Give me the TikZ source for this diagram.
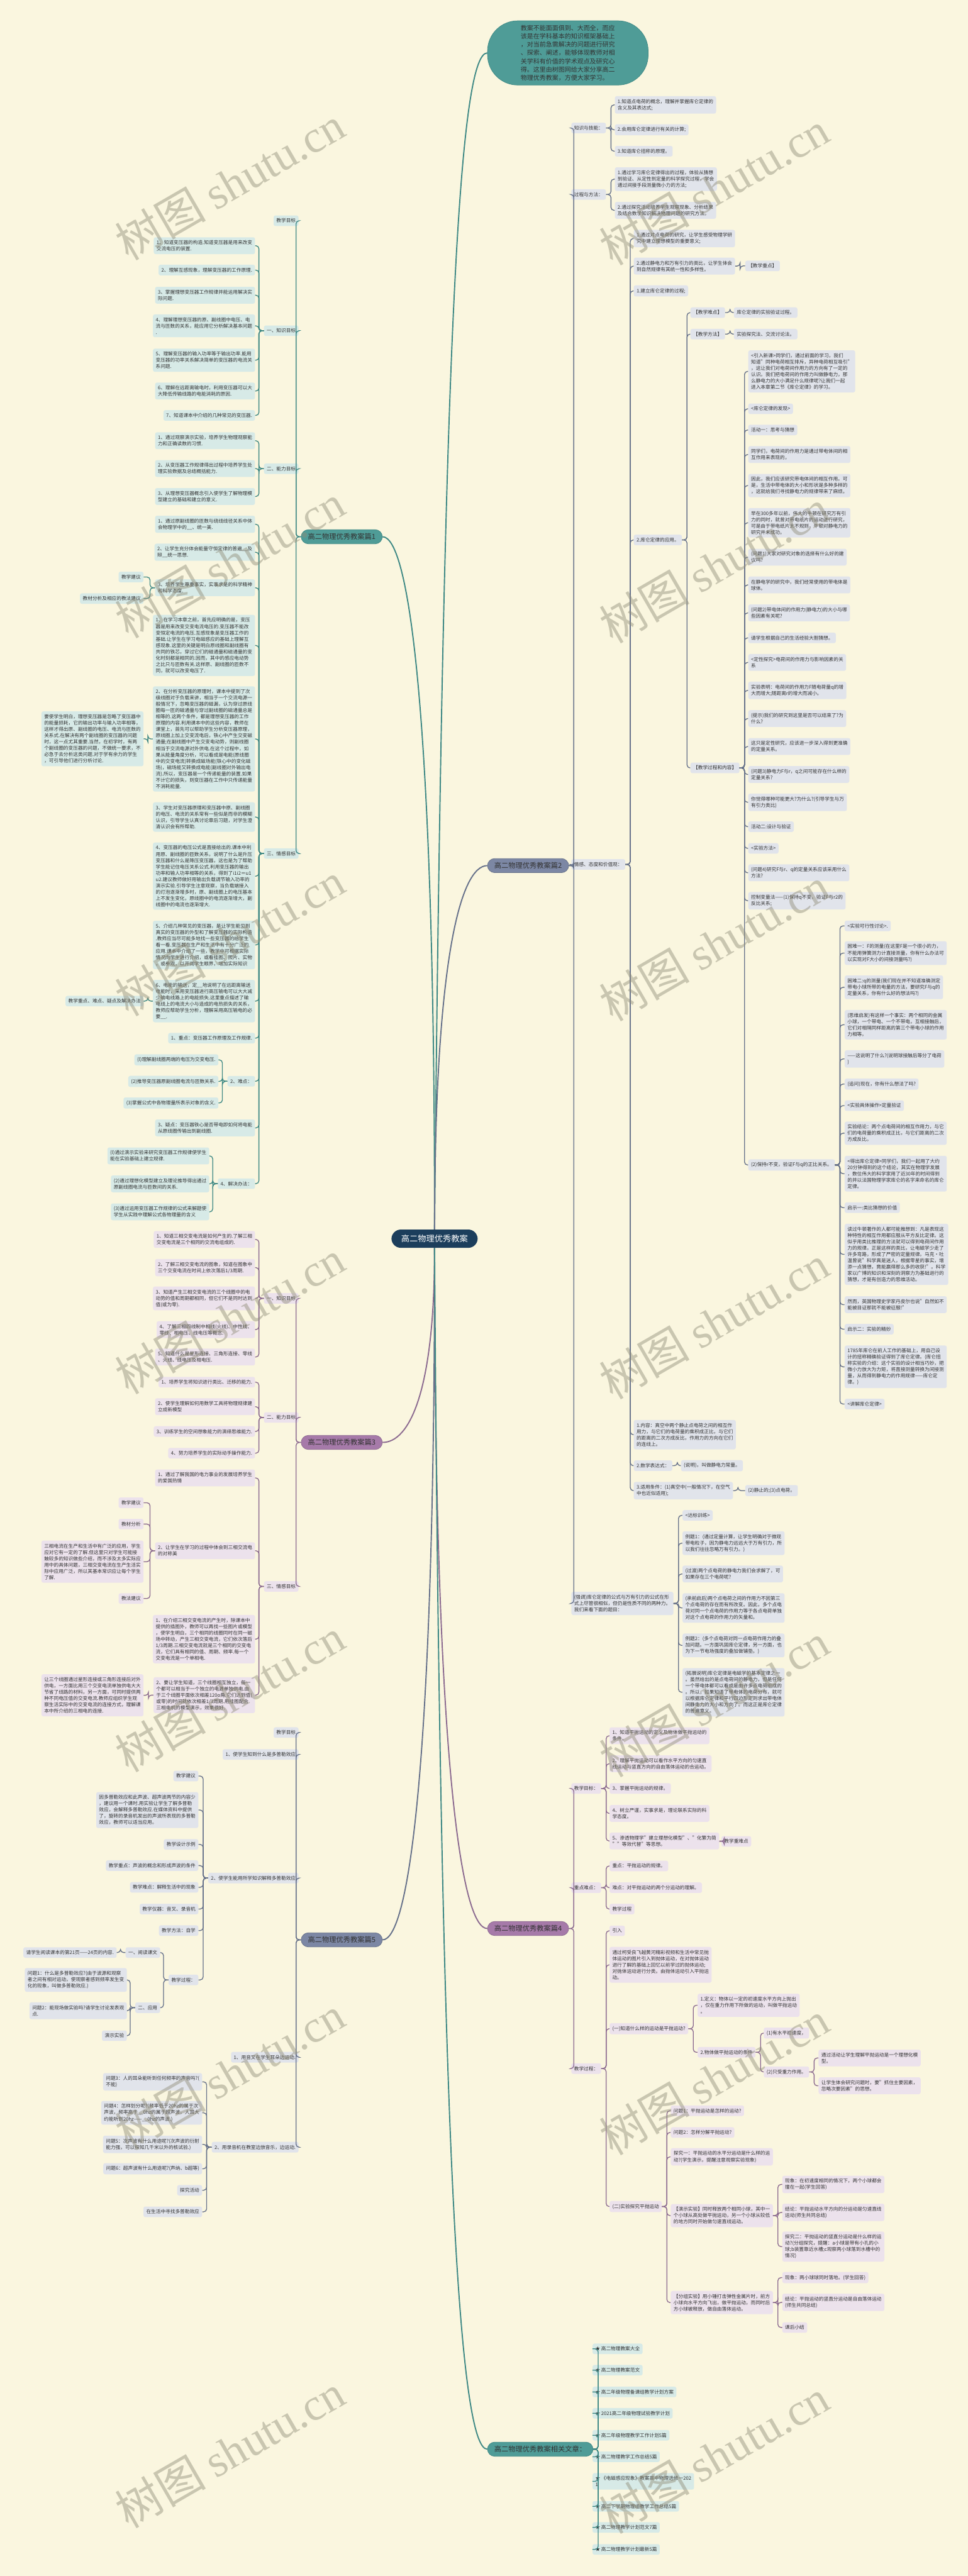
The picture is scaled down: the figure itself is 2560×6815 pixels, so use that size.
\documentclass[tikz,border=0pt]{standalone}
\usepackage{fontspec}
\setmainfont{Noto Sans CJK SC}
\newfontfamily\wmfont{Liberation Serif}
\definecolor{bgc}{HTML}{FAF6DF}
\definecolor{txt}{HTML}{333333}
\definecolor{navy}{HTML}{1C3E5C}
\definecolor{tealP}{HTML}{4F9C97}
\definecolor{tealD}{HTML}{3F8985}
\definecolor{tealL}{HTML}{D7EAE7}
\definecolor{slateP}{HTML}{7C87A4}
\definecolor{slateD}{HTML}{66718A}
\definecolor{slateL}{HTML}{E1E4EB}
\definecolor{purpP}{HTML}{A67AA9}
\definecolor{purpD}{HTML}{8C6B90}
\definecolor{purpL}{HTML}{ECE2EC}
\definecolor{wmc}{HTML}{8F8C78}
\newcommand\mmfs{\fontsize{6.38pt}{8.35pt}\selectfont}
\newcommand\mmL[5]{\node[#1,anchor=east] (#2) at (#3,#4) {#5};}
\newcommand\mmR[5]{\node[#1,anchor=west] (#2) at (#3,#4) {#5};}
\newcommand\lkL[3]{\draw[#1] (#2.west) -- ++(-13,0) |- (#3.east);}
\newcommand\lkR[3]{\draw[#1] (#2.east) -- ++(13,0) |- (#3.west);}
\tikzset{
 box/.style={rounded corners=2.5pt, inner xsep=3.7pt, inner ysep=4pt, align=left, font=\mmfs, text=txt},
 tbox/.style={box, fill=tealL},
 sbox/.style={box, fill=slateL},
 pbox/.style={box, fill=purpL},
 pill/.style={rounded corners=9.5pt, inner xsep=9pt, inner ysep=5pt, line width=0.6pt, font=\fontsize{9.35pt}{11pt}\selectfont, text=txt},
 pillT/.style={pill, fill=tealP, draw=tealD}, pillS/.style={pill, fill=slateP, draw=slateD}, pillP/.style={pill, fill=purpP, draw=purpD},
 lk/.style={line width=1.1pt, rounded corners=4pt},
 tline/.style={lk, draw=tealD}, sline/.style={lk, draw=slateD}, pline/.style={lk, draw=purpD},
 trunk/.style={line width=1.6pt},
 wm/.style={text=wmc, text opacity=0.45, inner sep=0pt, rotate=30, anchor=south west, font=\fontsize{60pt}{60pt}\selectfont},
}
\begin{document}
\begin{tikzpicture}[x=0.5pt,y=-0.5pt]
\fill[bgc] (0,0) rectangle (2560,6815);
\useasboundingbox (0,0) rectangle (2560,6815);

% root and note
\node[fill=navy, text=white, rounded corners=12.5pt, inner xsep=13pt, inner ysep=7pt, font=\fontsize{11pt}{13pt}\selectfont] (root) at (1149.5,3277) {高二物理优秀教案};
\node[fill=tealP, draw=tealD, line width=0.6pt, rounded corners=40pt, minimum height=85pt, inner xsep=44pt, inner ysep=5pt, align=left, text=txt, font=\fontsize{8.3pt}{11pt}\selectfont, anchor=west] (note) at (1289,140) {教案不能面面俱到、大而全，而应\\该是在学科基本的知识框架基础上\\，对当前急需解决的问题进行研究\\、探索、阐述，能够体现教师对相\\关学科有价值的学术观点及研究心\\得。这里由树图网给大家分享高二\\物理优秀教案，方便大家学习。};

% ===== 篇1 =====
\mmL{pillT}{b1}{1012}{1420}{高二物理优秀教案篇1}
\mmL{tbox}{b1a}{790}{584}{教学目标}
\mmL{tbox}{b1b}{790}{875}{一、知识目标}
\mmL{tbox}{b1c}{790}{1240}{二、能力目标}
\mmL{tbox}{b1d}{790}{2258}{三、情感目标}
\mmL{tbox}{b1b1}{675}{650}{1、知道变压器的构造.知道变压器是用来改变\\交流电压的装置.}
\mmL{tbox}{b1b2}{675}{714.5}{2、理解互感现象，理解变压器的工作原理.}
\mmL{tbox}{b1b3}{675}{781}{3、掌握理想变压器工作规律并能运用解决实\\际问题.}
\mmL{tbox}{b1b4}{675}{862}{4、理解理想变压器的原、副线圈中电压、电\\流与匝数的关系，能应用它分析解决基本问题\\.}
\mmL{tbox}{b1b5}{675}{953}{5、理解变压器的输入功率等于输出功率.能用\\变压器的功率关系解决简单的变压器的电流关\\系问题.}
\mmL{tbox}{b1b6}{675}{1034.5}{6、理解在远距离输电时，利用变压器可以大\\大降低传输线路的电能消耗的原因.}
\mmL{tbox}{b1b7}{675}{1099}{7、知道课本中介绍的几种常见的变压器.}
\mmL{tbox}{b1c1}{675}{1166}{1、通过观察演示实验，培养学生物理观察能\\力和正确读数的习惯.}
\mmL{tbox}{b1c2}{675}{1239.5}{2、从变压器工作规律得出过程中培养学生处\\理实验数据及总结概括能力.}
\mmL{tbox}{b1c3}{675}{1313.5}{3、从理想变压器概念引入使学生了解物理模\\型建立的基础和建立的意义.}
\mmL{tbox}{b1d1}{675}{1387}{1、通过原副线圈的匝数与绕线线径关系中体\\会物理学中的\_\_、统一美.}
\mmL{tbox}{b1d2}{675}{1461}{2、让学生充分体会能量守恒定律的普遍\_\_及\\辩\_\_统一思想.}
\mmL{tbox}{b1d3}{675}{1555}{3、培养学生尊重事实，实事求是的科学精神\\和科学态度.}
\mmL{tbox}{b1d3a}{380}{1526.5}{教学建议}
\mmL{tbox}{b1d3b}{380}{1583.5}{教材分析及相应的教法建议}
\mmL{tbox}{b1d4}{675}{1707.5}{1、在学习本章之前，首先应明确的是，变压\\器是用来改变交变电流电压的.变压器不能改\\变恒定电流的电压.互感现象是变压器工作的\\基础.让学生在学习电磁感应的基础上理解互\\感现象.这里的关键是明白原线圈和副线圈有\\共同的铁芯，穿过它们的磁通量和磁通量的变\\化时刻都是相同的.因而，其中的感应电动势\\之比只与匝数有关.这样原、副线圈的匝数不\\同，就可以改变电压了.}
\mmL{tbox}{b1d5}{675}{1955}{2、在分析变压器的原理时，课本中提到了次\\级线圈对于负载来讲，相当于一个交流电源一\\般情况下，忽略变压器的磁漏，认为穿过原线\\圈每一匝的磁通量与穿过副线圈的磁通量总是\\相等的.这两个条件，都是理想变压器的工作\\原理的内容.利用课本中的这些内容，教师在\\课堂上，首先可以帮助学生分析变压器原理，\\原线圈上加上交变流电后，铁心中产生交变磁\\通量;在副线圈中产生交变电动势，则副线圈\\相当于交流电源对外供电.在这个过程中，如\\果从能量角度分析，可以看成是电能(原线圈\\中的交变电流)转换成磁场能(铁心中的变化磁\\场)，磁场能又转换成电能(副线圈对外输出电\\流).所以，变压器是一个传递能量的装置.如果\\不计它的损失，则变压器在工作中只传递能量\\不消耗能量.}
\mmL{tbox}{b1d5a}{380}{1954.5}{要使学生明白，理想变压器是忽略了变压器中\\的能量损耗，它的输出功率与输入功率相等，\\这样才得出原、副线圈的电压、电流与匝数的\\关系式.在解决有两个副线圈的变压器的问题\\时，这一点尤其重要.当然，在初学时，有两\\个副线圈的变压器的问题，不做统一要求，不\\必急于去分析这类问题.对于学有余力的学生\\，可引导他们进行分析讨论.}
\mmL{tbox}{b1d6}{675}{2161.5}{3、学生对变压器原理和变压器中原、副线圈\\的电压、电流的关系常有一些似是而非的模糊\\认识，引导学生认真讨论章后习题，对学生澄\\清认识会有所帮助.}
\mmL{tbox}{b1d7}{675}{2318}{4、变压器的电压公式是直接给出的.课本中利\\用原、副线圈的匝数关系，说明了什么是升压\\变压器和什么是降压变压器，这也是为了帮助\\学生能记住电压关系公式.利用变压器的输出\\功率和输人功率相等的关系，得到了i1i2＝u1\\u2.建议教师做好用输出负载调节输入功率的\\演示实验.引导学生注意观察，当负载端接入\\的灯泡逐渐增多时，原、副线圈上的电压基本\\上不发生变化，原线圈中的电流逐渐增大，副\\线圈中的电流也逐渐增大.}
\mmL{tbox}{b1d8}{675}{2500}{5、介绍几种常见的变压器，是让学生能见到\\真实的变压器的外型和了解变压器的实际构造\\.教师应当尽可能多地找一些变压器的给学生\\看一看.变压器在生产和生活中有十分广泛的\\应用.课本中介绍了一些，教学中可根据实际\\情况向学生进行介绍，或看挂图、照片、实物\\，或参观，以开阔学生眼界，增加实际知识}
\mmL{tbox}{b1d9}{675}{2648.5}{6、电能的输送，定\_\_地说明了在远距离输送\\电能时，采用变压器进行高压输电可以大大减\\少输电线路上的电能损失.这里重点描述了输\\电线上的电流大小与造成的电热损失的关系，\\教师应帮助学生分析，理解采用高压输电的必\\要\_\_.}
\mmL{tbox}{b1d9a}{380}{2648.5}{教学重点、难点、疑点及解决办法}
\mmL{tbox}{b1d10}{675}{2746.5}{1、重点：变压器工作原理及工作规律.}
\mmL{tbox}{b1d11}{675}{2860.5}{2、难点：}
\mmL{tbox}{b1d11a}{578}{2804}{(l)理解副线圈两端的电压为交变电压.}
\mmL{tbox}{b1d11b}{578}{2861}{(2)推导变压器原副线圈电流与匝数关系.}
\mmL{tbox}{b1d11c}{578}{2918}{(3)掌握公式中各物理量所表示对象的含义.}
\mmL{tbox}{b1d12}{675}{2984}{3、疑点：变压器铁心是否带电即如何将电能\\从原线圈传输出到副线圈.}
\mmL{tbox}{b1d13}{675}{3131.5}{4、解决办法：}
\mmL{tbox}{b1d13a}{554}{3058}{(l)通过演示实验来研究变压器工作规律使学生\\能在实验基础上建立规律.}
\mmL{tbox}{b1d13b}{554}{3132}{(2)通过理想化模型建立及理论推导得出通过\\原副线圈电流与匝数间的关系.}
\mmL{tbox}{b1d13c}{554}{3206}{(3)通过运用变压器工作规律的公式来解题使\\学生从实践中理解公式各物理量的含义}

\foreach \x in {b1a,b1b,b1c,b1d} {\lkL{tline}{b1}{\x}}
\foreach \x in {1,...,7} {\lkL{tline}{b1b}{b1b\x}}
\foreach \x in {1,2,3} {\lkL{tline}{b1c}{b1c\x}}
\foreach \x in {1,...,13} {\lkL{tline}{b1d}{b1d\x}}
\lkL{tline}{b1d3}{b1d3a} \lkL{tline}{b1d3}{b1d3b}
\lkL{tline}{b1d5}{b1d5a}
\lkL{tline}{b1d9}{b1d9a}
\foreach \x in {a,b,c} {\lkL{tline}{b1d11}{b1d11\x}}
\foreach \x in {a,b,c} {\lkL{tline}{b1d13}{b1d13\x}}

% ===== 篇3 =====
\mmL{pillP}{b3}{1012}{3816}{高二物理优秀教案篇3}
\mmL{pbox}{b3a}{790}{3435}{一、知识目标}
\mmL{pbox}{b3b}{790}{3750}{二、能力目标}
\mmL{pbox}{b3c}{790}{4197}{三、情感目标}
\mmL{pbox}{b3a1}{675}{3279}{1、知道三相交变电流是如何产生的.了解三相\\交变电流是三个相同的交流电组成的.}
\mmL{pbox}{b3a2}{675}{3353.5}{2、了解三相交变电流的图象，知道在图象中\\三个交变电流在时间上依次落后1/3周期.}
\mmL{pbox}{b3a3}{675}{3435}{3、知道产生三相交变电流的三个线圈中的电\\动势的值和周期都相同，但它们不是同时达到\\值(或为零).}
\mmL{pbox}{b3a4}{675}{3517.5}{4、了解三相四线制中相线(火线)、中性线、\\零线、相电压、线电压等概念.}
\mmL{pbox}{b3a5}{675}{3590}{5、知道什么是星形连接、三角形连接、零线\\、火线、线电压及相电压.}
\mmL{pbox}{b3b1}{675}{3656.5}{1、培养学生将知识进行类比、迁移的能力.}
\mmL{pbox}{b3b2}{675}{3721.5}{2、使学生理解如何用数学工具将物理规律建\\立成新模型}
\mmL{pbox}{b3b3}{675}{3787}{3、训练学生的空间想象能力的演绎思维能力.}
\mmL{pbox}{b3b4}{675}{3844.5}{4、努力培养学生的实际动手操作能力.}
\mmL{pbox}{b3c1}{675}{3910}{1、通过了解我国的电力事业的发展培养学生\\的爱国热情}
\mmL{pbox}{b3c2}{675}{4102.5}{2、让学生在学习的过程中体会到三相交流电\\的对称美}
\mmL{pbox}{b3c2a}{380}{3975.5}{教学建议}
\mmL{pbox}{b3c2b}{380}{4032}{教材分析}
\mmL{pbox}{b3c2c}{380}{4131.5}{三相电流在生产和生活中有广泛的应用，学生\\应对它有一定的了解.但这里只对学生可能接\\触较多的知识做些介绍，而不涉及太多实际应\\用中的具体问题，三相交变电流在生产生活实\\际中应用广泛，所以其基本常识应让每个学生\\了解.}
\mmL{pbox}{b3c2d}{380}{4229}{教法建议}
\mmL{pbox}{b3c3}{675}{4336.5}{1、在介绍三相交变电流的产生时，除课本中\\提供的插图外，教师可以再找一些图片或模型\\，使学生明白，三个相同的线圈同时在同一磁\\场中转动，产生三相交变电流，它们依次落后\\1/3周期.三相交变电流就是三个相同的交变电\\流，它们具有相同的值、周期、频率.每一个\\交变电流是一个单相电.}
\mmL{pbox}{b3c4}{675}{4484.5}{2、要让学生知道，三个线圈相互独立，每一\\个都可以相当于一个独立的电源单独供电.由\\于三个线圈平面依次相差120o角.它们达到值(\\或零)的时间就依次相差1/3周期.用挂图配合\\三相电机的模型演示，效果很好.}
\mmL{pbox}{b3c4a}{380}{4485}{让三个线圈通过星形连接或三角形连接后对外\\供电，一方面比用三个交变电流单独供电大大\\节省了线路的材料，另一方面，可同时提供两\\种不同电压值的交变电流.教师应组织学生观\\察生活实际中的交变电流的连接方式，理解课\\本中所介绍的三相电的连接.}
\foreach \x in {b3a,b3b,b3c} {\lkL{pline}{b3}{\x}}
\foreach \x in {1,...,5} {\lkL{pline}{b3a}{b3a\x}}
\foreach \x in {1,...,4} {\lkL{pline}{b3b}{b3b\x}}
\foreach \x in {1,...,4} {\lkL{pline}{b3c}{b3c\x}}
\foreach \x in {a,b,c,d} {\lkL{pline}{b3c2}{b3c2\x}}
\lkL{pline}{b3c4}{b3c4a}

% ===== 篇5 =====
\mmL{pillS}{b5}{1012}{5132}{高二物理优秀教案篇5}
\mmL{sbox}{b5a}{790}{4583.5}{教学目标}
\mmL{sbox}{b5b}{790}{4641.5}{1、使学生知到什么是多普勒效应}
\mmL{sbox}{b5c}{790}{4968.5}{2、使学生能用所学知识解释多普勒效应}
\mmL{sbox}{b5d}{790}{5442.5}{1、用音叉在学生耳朵边运动.}
\mmL{sbox}{b5e}{790}{5680.5}{2、用录音机在教室边放音乐，边运动.}
\mmL{sbox}{b5c1}{525}{4698.5}{教学建议}
\mmL{sbox}{b5c2}{525}{4788.5}{因多普勒效应和此声波、超声波两节的内容少\\，建议用一个课时.用实验让学生了解多普勒\\效应，会解释多普勒效应.在媒体资料中提供\\了，旋转的录音机发出的声波所表现的多普勒\\效应，教师可以适当应用。}
\mmL{sbox}{b5c3}{525}{4879.5}{教学设计示例}
\mmL{sbox}{b5c4}{525}{4935.5}{教学重点：声波的概念和形成声波的条件}
\mmL{sbox}{b5c5}{525}{4993}{教学难点：解释生活中的现象}
\mmL{sbox}{b5c6}{525}{5050.5}{教学仪器：音叉、录音机}
\mmL{sbox}{b5c7}{525}{5107.5}{教学方法：自学}
\mmL{sbox}{b5c8}{525}{5238}{教学过程：}
\mmL{sbox}{b5c8a}{424}{5165.5}{一、阅读课文}
\mmL{sbox}{b5c8b}{424}{5311.5}{二、应用}
\mmL{sbox}{b5c8a1}{309}{5165.5}{请学生阅读课本的第21页——24页的内容.}
\mmL{sbox}{b5c8b1}{336}{5238}{问题1：什么是多普勒效应?(由于波源和观察\\者之间有相对运动，使观察者感到频率发生变\\化的现象，叫做多普勒效应.)}
\mmL{sbox}{b5c8b2}{336}{5319.5}{问题2：能现场做实验吗?请学生讨论发表观\\点.}
\mmL{sbox}{b5c8b3}{336}{5385.5}{演示实验}
\mmL{sbox}{b5e1}{535}{5507.5}{问题3：人的耳朵能听到任何频率的声音吗?(\\不能)}
\mmL{sbox}{b5e2}{535}{5589.5}{问题4：怎样划分呢?(频率低于20hz的属于次\\声波，频率高于\_\_0hz的属于超声波，人耳大\\约能听到20hz——\_\_0hz的声波.)}
\mmL{sbox}{b5e3}{535}{5673}{问题5：次声波有什么用途呢?(次声波的衍射\\能力强，可以探知几千米以外的核试验.)}
\mmL{sbox}{b5e4}{535}{5737.5}{问题6：超声波有什么用途呢?(声纳、b超等)}
\mmL{sbox}{b5e5}{535}{5794.5}{探究活动}
\mmL{sbox}{b5e6}{535}{5851.5}{在生活中寻找多普勒效应}
\foreach \x in {b5a,b5b,b5c,b5d,b5e} {\lkL{sline}{b5}{\x}}
\foreach \x in {1,...,8} {\lkL{sline}{b5c}{b5c\x}}
\lkL{sline}{b5c8}{b5c8a} \lkL{sline}{b5c8}{b5c8b}
\lkL{sline}{b5c8a}{b5c8a1}
\foreach \x in {1,2,3} {\lkL{sline}{b5c8b}{b5c8b\x}}
\foreach \x in {1,...,6} {\lkL{sline}{b5e}{b5e\x}}

% ===== 篇2 =====
\mmR{pillS}{b2}{1289}{2290}{高二物理优秀教案篇2}
\mmR{sbox}{b2a}{1511}{338.5}{知识与技能：}
\mmR{sbox}{b2b}{1511}{514.5}{过程与方法：}
\mmR{sbox}{b2c}{1511}{2287}{情感、态度和价值观：}
\mmR{sbox}{b2d}{1511}{4242}{(强调)库仑定律的公式与万有引力的公式在形\\式上尽管很相似，但仍是性质不同的两种力。\\我们来看下面的题目：}
\mmR{sbox}{b2a1}{1626}{277.5}{1.知道点电荷的概念，理解并掌握库仑定律的\\含义及其表达式;}
\mmR{sbox}{b2a2}{1626}{343.5}{2.会用库仑定律进行有关的计算;}
\mmR{sbox}{b2a3}{1626}{400}{3.知道库仑扭称的原理。}
\mmR{sbox}{b2b1}{1626}{474}{1.通过学习库仑定律得出的过程，体验从猜想\\到验证、从定性到定量的科学探究过程，学会\\通过间接手段测量微小力的方法;}
\mmR{sbox}{b2b2}{1626}{556.5}{2.通过探究活动培养学生观察现象、分析结果\\及结合数学知识解决物理问题的研究方法。}
\mmR{sbox}{b2c1}{1676}{631}{1.通过对点电荷的研究，让学生感受物理学研\\究中建立理想模型的重要意义;}
\mmR{sbox}{b2c2}{1676}{704}{2.通过静电力和万有引力的类比，让学生体会\\到自然规律有其统一性和多样性。}
\mmR{sbox}{b2c2a}{1971}{703.5}{【教学重点】}
\mmR{sbox}{b2c3}{1676}{769.5}{1.建立库仑定律的过程;}
\mmR{sbox}{b2c4}{1676}{1428.5}{2.库仑定律的应用。}
\mmR{sbox}{b2c4a}{1826}{827}{【教学难点】}
\mmR{sbox}{b2c4a1}{1941}{827}{库仑定律的实验验证过程。}
\mmR{sbox}{b2c4b}{1826}{884}{【教学方法】}
\mmR{sbox}{b2c4b1}{1941}{884}{实验探究法、交流讨论法。}
\mmR{sbox}{b2c4c}{1826}{2031.5}{【教学过程和内容】}
\mmR{sbox}{p1}{1979}{982.5}{<引入新课>同学们，通过前面的学习，我们\\知道"同种电荷相互排斥，异种电荷相互吸引"\\，这让我们对电荷间作用力的方向有了一定的\\认识。我们把电荷间的作用力叫做静电力，那\\么静电力的大小满足什么规律呢?让我们一起\\进入本章第二节《库仑定律》的学习。}
\mmR{sbox}{p2}{1979}{1081.5}{<库仑定律的发现>}
\mmR{sbox}{p3}{1979}{1137.5}{活动一：思考与猜想}
\mmR{sbox}{p4}{1979}{1202.5}{同学们，电荷间的作用力是通过带电体间的相\\互作用来表现的，}
\mmR{sbox}{p5}{1979}{1284.5}{因此，我们应该研究带电体间的相互作用。可\\是，生活中带电体的大小和形状是多种多样的\\，这就给我们寻找静电力的规律带来了麻烦。}
\mmR{sbox}{p6}{1979}{1383}{早在300多年以前，伟大的牛顿在研究万有引\\力的同时，就曾对带电纸片的运动进行研究，\\可是由于带电纸片太不规则，牛顿对静电力的\\研究并未成功。}
\mmR{sbox}{p7}{1979}{1474}{(问题1)大家对研究对象的选择有什么好的建\\议吗?}
\mmR{sbox}{p8}{1979}{1547.5}{在静电学的研究中，我们经常使用的带电体是\\球体。}
\mmR{sbox}{p9}{1979}{1621.5}{(问题2)带电体间的作用力(静电力)的大小与哪\\些因素有关呢?}
\mmR{sbox}{p10}{1979}{1687.5}{请学生根据自己的生活经验大胆猜想。}
\mmR{sbox}{p11}{1979}{1752.5}{<定性探究>电荷间的作用力与影响因素的关\\系}
\mmR{sbox}{p12}{1979}{1826.5}{实验表明：电荷间的作用力F随电荷量q的增\\大而增大;随距离r的增大而减小。}
\mmR{sbox}{p13}{1979}{1901}{(提示)我们的研究到这里是否可以结束了?为\\什么?}
\mmR{sbox}{p14}{1979}{1975}{这只是定性研究，应该进一步深入得到更准确\\的定量关系。}
\mmR{sbox}{p15}{1979}{2049}{(问题3)静电力F与r，q之间可能存在什么样的\\定量关系?}
\mmR{sbox}{p16}{1979}{2122.5}{你觉得哪种可能更大?为什么?(引导学生与万\\有引力类比)}
\mmR{sbox}{p17}{1979}{2187}{活动二:设计与验证}
\mmR{sbox}{p18}{1979}{2244.5}{<实验方法>}
\mmR{sbox}{p19}{1979}{2309}{(问题4)研究F与r、q的定量关系应该采用什么\\方法?}
\mmR{sbox}{p20}{1979}{2383}{控制变量法——(1)保持q不变，验证F与r2的\\反比关系;}
\mmR{sbox}{p21}{1979}{3082}{(2)保持r不变，验证F与q的正比关系。}
\mmR{sbox}{q1}{2234}{2449.5}{<实验可行性讨论>.}
\mmR{sbox}{q2}{2234}{2521.5}{困难一：F的测量(在这里F是一个很小的力，\\不能用弹簧测力计直接测量，你有什么办法可\\以实现对F大小的间接测量吗?)}
\mmR{sbox}{q3}{2234}{2612}{困难二:q的测量(我们现在并不知道准确测定\\带电小球所带的电量的方法，要研究F与q的\\定量关系，你有什么好的想法吗?)}
\mmR{sbox}{q4}{2234}{2711}{(思维启发)有这样一个事实：两个相同的金属\\小球，一个带电、一个不带电，互相接触后，\\它们对相隔同样距离的第三个带电小球的作用\\力相等。}
\mmR{sbox}{q5}{2234}{2801.5}{——这说明了什么?(说明球接触后等分了电荷\\)}
\mmR{sbox}{q6}{2234}{2868}{(追问)现在，你有什么想法了吗?}
\mmR{sbox}{q7}{2234}{2925}{<实验具体操作>定量验证}
\mmR{sbox}{q8}{2234}{2998}{实验结论：两个点电荷间的相互作用力，与它\\们的电荷量的乘积成正比，与它们距离的二次\\方成反比。}
\mmR{sbox}{q9}{2234}{3105}{<得出库仑定律>同学们，我们一起用了大约\\20分钟得到的这个结论，其实在物理学发展\\，数位伟大的科学家用了近30年的时间得到\\的并以法国物理学家库仑的名字来命名的库仑\\定律。}
\mmR{sbox}{q10}{2234}{3195}{启示一:类比猜想的价值}
\mmR{sbox}{q11}{2234}{3318.5}{读过牛顿著作的人都可能推想到：凡是表现这\\种特性的相互作用都应服从平方反比定律。这\\似乎用类比推理的方法就可以得到电荷间作用\\力的规律。正是这样的类比，让电磁学少走了\\许多弯路，形成了严密的定量规律。马克·吐\\温曾说"科学真是迷人，根据零星的事实，增\\添一点猜想，竟能赢得那么多的收获!"。科学\\家以广博的知识和深刻的洞察力为基础进行的\\猜想，才是有创造力的思维活动。}
\mmR{sbox}{q12}{2234}{3451.5}{然而，英国物理史学家丹皮尔也说"自然如不\\能被目证那就不能被征服!"}
\mmR{sbox}{q13}{2234}{3516.5}{启示二：实验的精妙}
\mmR{sbox}{q14}{2234}{3616}{1785年库仑在前人工作的基础上，用自己设\\计的扭称精确验证得到了库仑定律。(库仑扭\\称实验的介绍：这个实验的设计相当巧妙，把\\微小力放大为力矩，将直接测量转换为间接测\\量，从而得到静电力的作用规律——库仑定\\律。)}
\mmR{sbox}{q15}{2234}{3714.5}{<讲解库仑定律>}
\mmR{sbox}{b2c5}{1676}{3795.5}{1.内容：真空中两个静止点电荷之间的相互作\\用力，与它们的电荷量的乘积成正比，与它们\\的距离的二次方成反比，作用力的方向在它们\\的连线上。}
\mmR{sbox}{b2c6}{1676}{3877.5}{2.数学表达式：}
\mmR{sbox}{b2c6a}{1801}{3877.5}{(说明)，叫做静电力常量。}
\mmR{sbox}{b2c7}{1676}{3943.5}{3.适用条件：(1)真空中(一般情况下，在空气\\中也近似适用);}
\mmR{sbox}{b2c7a}{1971}{3943.5}{(2)静止的;(3)点电荷。}
\mmR{sbox}{r1}{1805}{4009}{<达标训练>}
\mmR{sbox}{r2}{1805}{4082.5}{例题1：(通过定量计算，让学生明确对于微观\\带电粒子，因为静电力远远大于万有引力，所\\以我们往往忽略万有引力。)}
\mmR{sbox}{r3}{1805}{4164}{(过渡)两个点电荷的静电力我们会求解了，可\\如果存在三个电荷呢?}
\mmR{sbox}{r4}{1805}{4254}{(承前启后)两个点电荷之间的作用力不因第三\\个点电荷的存在而有所改变。因此，多个点电\\荷对同一个点电荷的作用力等于各点电荷单独\\对这个点电荷的作用力的矢量和。}
\mmR{sbox}{r5}{1805}{4353}{例题2：(多个点电荷对同一点电荷作用力的叠\\加问题。一方面巩固库仑定律，另一方面，也\\为下一节电场强度的叠加做铺垫。)}
\mmR{sbox}{r6}{1805}{4477}{(拓展说明)库仑定律是电磁学的基本定律之一\\。虽然给出的是点电荷间的静电力，但是任何\\一个带电体都可以看成是由许多点电荷组成的\\。所以，如果知道了带电体的电荷分布，就可\\以根据库仑定律和平行四边形定则求出带电体\\间静电力的大小和方向了。而这正是库仑定律\\的普遍意义。}
\foreach \x in {b2a,b2b,b2c,b2d} {\lkR{sline}{b2}{\x}}
\foreach \x in {1,2,3} {\lkR{sline}{b2a}{b2a\x}}
\foreach \x in {1,2} {\lkR{sline}{b2b}{b2b\x}}
\foreach \x in {1,...,7} {\lkR{sline}{b2c}{b2c\x}}
\lkR{sline}{b2c2}{b2c2a}
\foreach \x in {a,b,c} {\lkR{sline}{b2c4}{b2c4\x}}
\lkR{sline}{b2c4a}{b2c4a1} \lkR{sline}{b2c4b}{b2c4b1}
\foreach \x in {1,...,21} {\lkR{sline}{b2c4c}{p\x}}
\foreach \x in {1,...,15} {\lkR{sline}{p21}{q\x}}
\lkR{sline}{b2c6}{b2c6a} \lkR{sline}{b2c7}{b2c7a}
\foreach \x in {1,...,6} {\lkR{sline}{b2d}{r\x}}

% ===== 篇4 =====
\mmR{pillP}{b4}{1289}{5102}{高二物理优秀教案篇4}
\mmR{pbox}{b4a}{1511}{4731.5}{教学目标：}
\mmR{pbox}{b4b}{1511}{4994}{重点难点：}
\mmR{pbox}{b4c}{1511}{5472.5}{教学过程：}
\mmR{pbox}{b4a1}{1612}{4592}{1、知道平抛运动的定义及物体做平抛运动的\\条件。}
\mmR{pbox}{b4a2}{1612}{4666}{2、理解平抛运动可以看作水平方向的匀速直\\线运动与竖直方向的自由落体运动的合运动。}
\mmR{pbox}{b4a3}{1612}{4731.5}{3、掌握平抛运动的规律。}
\mmR{pbox}{b4a4}{1612}{4797.5}{4、树立严谨，实事求是，理论联系实际的科\\学态度。}
\mmR{pbox}{b4a5}{1612}{4870.5}{5、渗透物理学"建立理想化模型"、"化繁为简\\""等效代替"等思想。}
\mmR{pbox}{b4a5a}{1908}{4871.5}{教学重难点}
\mmR{pbox}{b4b1}{1612}{4936.5}{重点：平抛运动的规律。}
\mmR{pbox}{b4b2}{1612}{4994}{难点：对平抛运动的两个分运动的理解。}
\mmR{pbox}{b4b3}{1612}{5050.5}{教学过程}
\mmR{pbox}{b4c1}{1612}{5108}{引入}
\mmR{pbox}{b4c2}{1612}{5198}{通过柯受良飞越黄河精彩视频和生活中常见抛\\体运动的图片引入到抛体运动，在对抛体运动\\进行了解的基础上回忆以前学过的抛体运动;\\对抛体运动进行分类。由抛体运动引入平抛运\\动。}
\mmR{pbox}{b4c3}{1612}{5367}{(一)知道什么样的运动是平抛运动?}
\mmR{pbox}{b4c3a}{1845}{5305}{1.定义：物体以一定的初速度水平方向上抛出\\，仅在重力作用下所做的运动，叫做平抛运动\\。}
\mmR{pbox}{b4c3b}{1845}{5429.5}{2.物体做平抛运动的条件}
\mmR{pbox}{b4c3b1}{2020}{5378.5}{(1)有水平初速度，}
\mmR{pbox}{b4c3b2}{2020}{5481.5}{(2)只受重力作用。}
\mmR{pbox}{b4c3b2a}{2165}{5444.5}{通过活动让学生理解平抛运动是一个理想化模\\型。}
\mmR{pbox}{b4c3b2b}{2165}{5518}{让学生体会研究问题时，要"抓住主要因素，\\忽略次要因素"的思想。}
\mmR{pbox}{b4c4}{1612}{5837.5}{(二)实验探究平抛运动}
\mmR{pbox}{b4c4a}{1774}{5584}{问题1：平抛运动是怎样的运动?}
\mmR{pbox}{b4c4b}{1774}{5641.5}{问题2：怎样分解平抛运动?}
\mmR{pbox}{b4c4c}{1774}{5706}{探究一：平抛运动的水平分运动是什么样的运\\动?(学生演示，提醒注意观察实验现象)}
\mmR{pbox}{b4c4d}{1774}{5861.5}{【演示实验】同时释放两个相同小球，其中一\\个小球从高处做平抛运动，另一个小球从较低\\的地方同时开始做匀速直线运动。}
\mmR{pbox}{b4c4d1}{2069}{5779}{现象：在初速度相同的情况下，两个小球都会\\撞在一起(学生回答)}
\mmR{pbox}{b4c4d2}{2069}{5853}{结论：平抛运动水平方向的分运动是匀速直线\\运动(师生共同总结)}
\mmR{pbox}{b4c4d3}{2069}{5943.5}{探究二：平抛运动的竖直分运动是什么样的运\\动?(分组探究，提醒：a小球是带有小孔的小\\球;b装置靠近水槽;c观察两小球落到水槽中的\\情况)}
\mmR{pbox}{b4c4e}{1774}{6091.5}{【分组实验】用小锤打击弹性金属片时，前方\\小球向水平方向飞出，做平抛运动，而同时后\\方小球被释放，做自由落体运动。}
\mmR{pbox}{b4c4e1}{2069}{6025.5}{现象：两小球球同时落地。(学生回答)}
\mmR{pbox}{b4c4e2}{2069}{6091}{结论：平抛运动的竖直分运动是自由落体运动\\(师生共同总结)}
\mmR{pbox}{b4c4e3}{2069}{6157.5}{课后小结}
\foreach \x in {b4a,b4b,b4c} {\lkR{pline}{b4}{\x}}
\foreach \x in {1,...,5} {\lkR{pline}{b4a}{b4a\x}}
\lkR{pline}{b4a5}{b4a5a}
\foreach \x in {1,2,3} {\lkR{pline}{b4b}{b4b\x}}
\foreach \x in {1,...,4} {\lkR{pline}{b4c}{b4c\x}}
\lkR{pline}{b4c3}{b4c3a} \lkR{pline}{b4c3}{b4c3b}
\lkR{pline}{b4c3b}{b4c3b1} \lkR{pline}{b4c3b}{b4c3b2}
\lkR{pline}{b4c3b2}{b4c3b2a} \lkR{pline}{b4c3b2}{b4c3b2b}
\foreach \x in {a,b,c,d,e} {\lkR{pline}{b4c4}{b4c4\x}}
\foreach \x in {1,2,3} {\lkR{pline}{b4c4d}{b4c4d\x}}
\foreach \x in {1,2,3} {\lkR{pline}{b4c4e}{b4c4e\x}}

% ===== 相关文章 =====
\mmR{pillT}{b6}{1289}{6479.5}{高二物理优秀教案相关文章：}
\mmR{tbox}{b6a}{1567}{6214}{★ 高二物理教案大全}
\mmR{tbox}{b6b}{1567}{6270.5}{★ 高二物理教案范文}
\mmR{tbox}{b6c}{1567}{6328}{★ 高二年级物理备课组教学计划方案}
\mmR{tbox}{b6d}{1567}{6384.5}{★ 2021高二年级物理试验教学计划}
\mmR{tbox}{b6e}{1567}{6442.5}{★ 高二年级物理教学工作计划5篇}
\mmR{tbox}{b6f}{1567}{6499.5}{★ 高二物理教学工作总结5篇}
\mmR{tbox}{b6g}{1567}{6564.5}{★ 《电磁感应现象》教案高中物理选修一202\\1}
\mmR{tbox}{b6h}{1567}{6630.5}{★ 高二下学期物理组教学工作总结5篇}
\mmR{tbox}{b6i}{1567}{6686.5}{★ 高二物理教学计划范文7篇}
\mmR{tbox}{b6j}{1567}{6744.5}{★ 高二物理教学计划最新5篇}
\foreach \x in {a,b,c,d,e,f,g,h,i,j} {\lkR{tline}{b6}{b6\x}}

% ===== trunk curves =====
\draw[trunk, tealD] (root.north) .. controls (1172,900) and (1215,140) .. (note.west);
\draw[trunk, tealD] (root.north) .. controls (1150,1878) and (1081,1420) .. (b1.east);
\draw[trunk, slateD] (root.north) .. controls (1150,2530.5) and (1219.5,2290) .. (b2.west);
\draw[trunk, purpD] (root.south) .. controls (1150,3687.5) and (1081,3816) .. (b3.east);
\draw[trunk, purpD] (root.south) .. controls (1150,4652) and (1219.5,5102) .. (b4.west);
\draw[trunk, slateD] (root.south) .. controls (1150,4674.5) and (1081,5132) .. (b5.east);
\draw[trunk, tealD] (root.south) .. controls (1165,5685) and (1215,6479.5) .. (b6.west);

% ===== watermarks =====
\foreach \k in {0,...,6} {
 \node[wm] (wmL\k) at (345,{700+1000*\k}) {树图 {\wmfont shutu.cn}};
 \node[wm] (wmR\k) at (1626,{714+1000*\k}) {树图 {\wmfont shutu.cn}};
}
\end{tikzpicture}
\end{document}
